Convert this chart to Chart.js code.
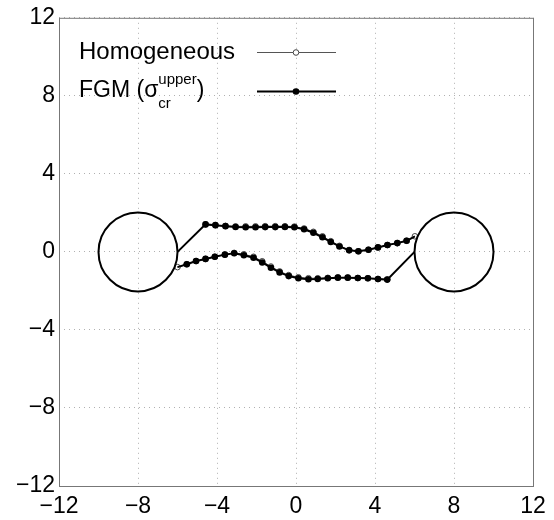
<!DOCTYPE html>
<html>
<head>
<meta charset="utf-8">
<script src="https://cdn.jsdelivr.net/npm/chart.js@4.4.0/dist/chart.umd.min.js"></script>
<style>
  html, body { margin: 0; padding: 0; background: #fff; }
</style>
</head>
<body>
<canvas id="myChart" width="554" height="520"></canvas>
<script>
// axis ticks
const tickValues = [-12, -8, -4, 0, 4, 8, 12];

// FGM (sigma_cr^upper) path, upper branch
const fgmUpperX = [-6.0, -4.58, -4.08, -3.57, -3.06, -2.55, -2.05, -1.56, -1.05, -0.56, -0.08, 0.41, 0.88, 1.34, 1.76, 2.20, 2.69, 3.16, 3.67, 4.15, 4.63, 5.13, 5.60, 6.02];
const fgmUpperY = [0.0, 1.41, 1.37, 1.32, 1.28, 1.26, 1.26, 1.27, 1.27, 1.28, 1.26, 1.16, 0.98, 0.75, 0.51, 0.28, 0.08, 0.03, 0.11, 0.23, 0.35, 0.45, 0.57, 0.80];

// FGM path, lower branch
const fgmLowerX = [-6.0, -5.53, -5.06, -4.58, -4.11, -3.60, -3.13, -2.64, -2.15, -1.71, -1.27, -0.83, -0.37, 0.12, 0.63, 1.10, 1.61, 2.12, 2.62, 3.13, 3.64, 4.15, 4.62, 6.0];
const fgmLowerY = [-0.78, -0.63, -0.47, -0.36, -0.25, -0.14, -0.07, -0.17, -0.30, -0.54, -0.81, -1.05, -1.24, -1.35, -1.40, -1.39, -1.35, -1.32, -1.32, -1.34, -1.35, -1.39, -1.42, 0.0];

// Homogeneous path, upper branch
const homUpperX = [-4.58, -4.08, -3.57, -3.06, -2.55, -2.05, -1.56, -1.05, -0.56, -0.08, 0.41, 0.88, 1.34, 1.76, 2.20, 2.69, 3.16, 3.67, 4.15, 4.63, 5.13, 5.60, 6.02];
const homUpperY = [1.41, 1.37, 1.33, 1.31, 1.31, 1.31, 1.32, 1.32, 1.32, 1.30, 1.20, 1.03, 0.80, 0.55, 0.31, 0.10, 0.03, 0.11, 0.23, 0.35, 0.45, 0.57, 0.80];

// Homogeneous path, lower branch
const homLowerX = [-6.0, -5.53, -5.06, -4.58, -4.11, -3.60, -3.13, -2.64, -2.15, -1.71, -1.27, -0.83, -0.37, 0.12, 0.63, 1.10, 1.61, 2.12, 2.62, 3.13, 3.64, 4.15, 4.62];
const homLowerY = [-0.78, -0.63, -0.47, -0.36, -0.25, -0.14, -0.05, -0.12, -0.25, -0.48, -0.75, -1.00, -1.19, -1.30, -1.35, -1.35, -1.33, -1.31, -1.32, -1.34, -1.35, -1.39, -1.42];

// circular obstacles
const obstacleX = [-8, 8];
const obstacleY = [0, 0];
const obstacleR = [2, 2];

const FONT = '"Liberation Sans", Arial, Helvetica, sans-serif';

function pts(xs, ys) {
  return xs.map((x, i) => ({ x: x, y: ys[i] }));
}

// end points of FGM branches carry no marker
function fgmRadius(n) {
  const r = [];
  for (let i = 0; i < n; i++) r.push(i === 0 || i === n - 1 ? 0 : 3.3);
  return r;
}

const homStyle = {
  showLine: true,
  order: 2,
  borderColor: "#555",
  borderWidth: 1,
  pointStyle: "circle",
  pointRadius: 2.8,
  pointBorderWidth: 1,
  pointBorderColor: "#444",
  pointBackgroundColor: "rgba(0,0,0,0)",
  pointHoverRadius: 0,
};

const fgmStyle = {
  showLine: true,
  order: 1,
  borderColor: "#000",
  borderWidth: 2,
  pointStyle: "circle",
  pointBorderWidth: 0,
  pointBackgroundColor: "#000",
  pointHoverRadius: 0,
};

const data = {
  datasets: [
    Object.assign({ label: "Homogeneous", data: pts(homUpperX, homUpperY) }, homStyle),
    Object.assign({ label: "Homogeneous lower", data: pts(homLowerX, homLowerY) }, homStyle),
    Object.assign({ label: "FGM", data: pts(fgmUpperX, fgmUpperY), pointRadius: fgmRadius(fgmUpperX.length) }, fgmStyle),
    Object.assign({ label: "FGM lower", data: pts(fgmLowerX, fgmLowerY), pointRadius: fgmRadius(fgmLowerX.length) }, fgmStyle),
  ],
};

const obstaclePlugin = {
  id: "obstacles",
  afterDatasetsDraw(chart) {
    const { ctx, scales: { x, y } } = chart;
    ctx.save();
    ctx.strokeStyle = "#000";
    ctx.lineWidth = 2;
    obstacleX.forEach((cx, i) => {
      const px = x.getPixelForValue(cx);
      const py = y.getPixelForValue(obstacleY[i]);
      const r = Math.abs(x.getPixelForValue(cx + obstacleR[i]) - px);
      ctx.beginPath();
      ctx.arc(px, py, r, 0, Math.PI * 2);
      ctx.stroke();
    });
    ctx.restore();
  },
};

const boxPlugin = {
  id: "box",
  afterDraw(chart) {
    const { ctx, chartArea: a } = chart;
    ctx.save();
    ctx.strokeStyle = "#777";
    ctx.lineWidth = 1;
    ctx.strokeRect(a.left + 0.5, a.top + 0.5, a.right - a.left, a.bottom - a.top);
    ctx.restore();
  },
};

const legendPlugin = {
  id: "matlabLegend",
  afterDraw(chart) {
    const { ctx } = chart;
    ctx.save();
    ctx.fillStyle = "#000";
    ctx.textBaseline = "middle";
    ctx.font = "24px " + FONT;
    ctx.fillText("Homogeneous", 79, 52);

    let tx = 79;
    ctx.font = "23px " + FONT;
    ctx.fillText("FGM (σ", tx, 91);
    tx += ctx.measureText("FGM (σ").width;
    ctx.font = "15px " + FONT;
    ctx.fillText("upper", tx, 80);
    const w1 = ctx.measureText("upper").width;
    ctx.fillText("cr", tx, 104);
    tx += w1;
    ctx.font = "23px " + FONT;
    ctx.fillText(")", tx, 91);

    // sample lines
    ctx.strokeStyle = "#555";
    ctx.lineWidth = 1;
    ctx.beginPath();
    ctx.moveTo(257, 52.5);
    ctx.lineTo(336, 52.5);
    ctx.stroke();
    ctx.beginPath();
    ctx.arc(296, 52.5, 2.8, 0, Math.PI * 2);
    ctx.fillStyle = "#fff";
    ctx.fill();
    ctx.strokeStyle = "#444";
    ctx.stroke();

    ctx.strokeStyle = "#000";
    ctx.lineWidth = 2;
    ctx.beginPath();
    ctx.moveTo(257, 91.5);
    ctx.lineTo(336, 91.5);
    ctx.stroke();
    ctx.beginPath();
    ctx.arc(296, 91.5, 3.3, 0, Math.PI * 2);
    ctx.fillStyle = "#000";
    ctx.fill();
    ctx.restore();
  },
};

function tickText(v) {
  return v < 0 ? "\u2212" + Math.abs(v) : String(v);
}

const axisCommon = {
  type: "linear",
  min: -12,
  max: 12,
  afterBuildTicks(scale) {
    scale.ticks = tickValues.map((v) => ({ value: v }));
  },
  grid: {
    color: "#b0b0b0",
    lineWidth: 1,
    drawTicks: false,
  },
  border: { display: false, dash: [1, 4] },
};

const config = {
  type: "scatter",
  data: data,
  options: {
    responsive: false,
    animation: false,
    devicePixelRatio: 1,
    layout: { padding: { top: 13, right: 21, left: 0, bottom: 0 } },
    plugins: {
      legend: { display: false },
      tooltip: { enabled: false },
    },
    scales: {
      x: Object.assign({}, axisCommon, {
        position: "bottom",
        afterFit(scale) { scale.height = 34; },
        ticks: {
          color: "#000",
          font: { family: FONT, size: 23 },
          padding: 7,
          maxRotation: 0,
          autoSkip: false,
          callback: tickText,
        },
      }),
      y: Object.assign({}, axisCommon, {
        position: "left",
        afterFit(scale) { scale.width = 59; },
        ticks: {
          color: "#000",
          font: { family: FONT, size: 23 },
          padding: 4,
          autoSkip: false,
          callback: tickText,
        },
      }),
    },
  },
  plugins: [obstaclePlugin, boxPlugin, legendPlugin],
};

const myChart = new Chart(document.getElementById("myChart"), config);
</script>
</body>
</html>
